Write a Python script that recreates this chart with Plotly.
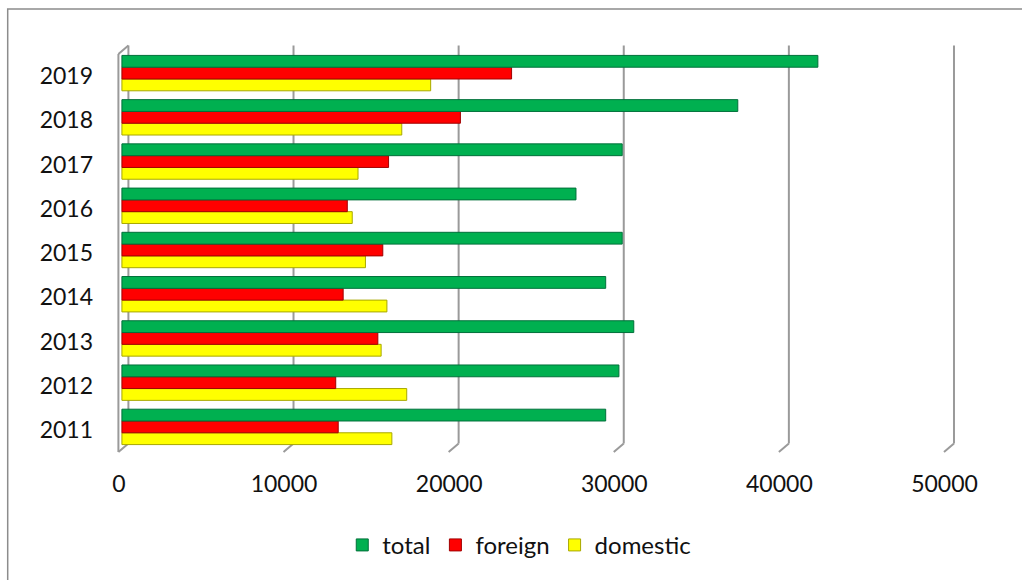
import plotly.graph_objects as go

# Yearly counts split into foreign and domestic, plus the total
years = ["2011", "2012", "2013", "2014", "2015", "2016", "2017", "2018", "2019"]
total = [29300, 30100, 31000, 29300, 30300, 27500, 30300, 37300, 42150]
foreign = [13100, 12950, 15500, 13400, 15800, 13650, 16150, 20500, 23600]
domestic = [16350, 17250, 15700, 16050, 14750, 13950, 14300, 16950, 18700]

x_ticks = [0, 10000, 20000, 30000, 40000, 50000]

# Page geometry (pixels)
W, H = 1022, 580
M_L, M_R, M_T, M_B = 111.8, 58.1, 51, 131
X_RANGE = [-600, 51000]

# Pseudo-3D depth: back wall and front edge offsets from the bar plane (px; +x right, +y up)
BACK_DX, BACK_DY = 6.5, 5.5
FRONT_DX, FRONT_DY = -3.5, -3.0
GRID = dict(color="#9a9a9a", width=2)

FONT = "Lato, 'Open Sans', sans-serif"
TEXT = "#111111"

fig = go.Figure()

# Added bottom-up: the first trace sits lowest inside each group
series = [
    ("domestic", domestic, "#FFFF00", "#a8a800"),
    ("foreign", foreign, "#FF0000", "#a00000"),
    ("total", total, "#00B050", "#00703a"),
]
for name, vals, col, edge in series:
    fig.add_trace(go.Bar(
        y=years, x=vals, name=name, orientation="h",
        marker=dict(color=col, line=dict(color=edge, width=1)),
    ))

shapes = []
for v in x_ticks:
    # back-wall gridline
    shapes.append(dict(
        type="line", layer="below", line=GRID,
        xref="x", xsizemode="pixel", xanchor=v, x0=BACK_DX, x1=BACK_DX,
        yref="paper", ysizemode="pixel", yanchor=0,
        y0=BACK_DY, y1=BACK_DY + (H - M_T - M_B),
    ))
    # floor edge running from the back wall to the front
    shapes.append(dict(
        type="line", layer="below", line=GRID,
        xref="x", xsizemode="pixel", xanchor=v, x0=BACK_DX, x1=FRONT_DX,
        yref="paper", ysizemode="pixel", yanchor=0,
        y0=BACK_DY, y1=FRONT_DY,
    ))

# left side wall: front vertical edge and top diagonal
shapes.append(dict(
    type="line", layer="below", line=GRID,
    xref="x", xsizemode="pixel", xanchor=0, x0=FRONT_DX, x1=FRONT_DX,
    yref="paper", ysizemode="pixel", yanchor=0,
    y0=FRONT_DY, y1=(H - M_T - M_B) + FRONT_DY,
))
shapes.append(dict(
    type="line", layer="below", line=GRID,
    xref="x", xsizemode="pixel", xanchor=0, x0=FRONT_DX, x1=BACK_DX,
    yref="paper", ysizemode="pixel", yanchor=1,
    y0=FRONT_DY, y1=BACK_DY,
))

# chart-area border
shapes.append(dict(
    type="rect", layer="below", line=dict(color="#8c8c8c", width=1.5),
    xref="paper", xsizemode="pixel", xanchor=0, x0=-(M_L - 7.5), x1=W,
    yref="paper", ysizemode="pixel", yanchor=1, y0=M_T - 9, y1=-H,
))

fig.update_layout(
    width=W, height=H,
    margin=dict(l=M_L, r=M_R, t=M_T, b=M_B, pad=0),
    paper_bgcolor="white", plot_bgcolor="rgba(0,0,0,0)",
    barmode="group", bargap=0.2, bargroupgap=0,
    font=dict(family=FONT, color=TEXT, size=23),
    shapes=shapes,
    showlegend=True,
    legend=dict(
        orientation="h", traceorder="reversed",
        x=0.478, xanchor="center", y=-0.242, yanchor="middle",
        font=dict(size=24, family=FONT, color=TEXT),
        bgcolor="rgba(0,0,0,0)",
    ),
    xaxis=dict(
        range=X_RANGE, tickvals=x_ticks, ticktext=[str(t) for t in x_ticks],
        showgrid=False, zeroline=False, showline=False, ticks="",
        ticklabelshift=-3, ticklabelstandoff=19,
        tickfont=dict(size=23),
    ),
    yaxis=dict(
        type="category", categoryorder="array", categoryarray=years,
        showgrid=False, zeroline=False, showline=False, ticks="",
        ticklabelshift=3, ticklabelstandoff=18,
        tickfont=dict(size=23),
    ),
)

fig.write_html("out.html")
